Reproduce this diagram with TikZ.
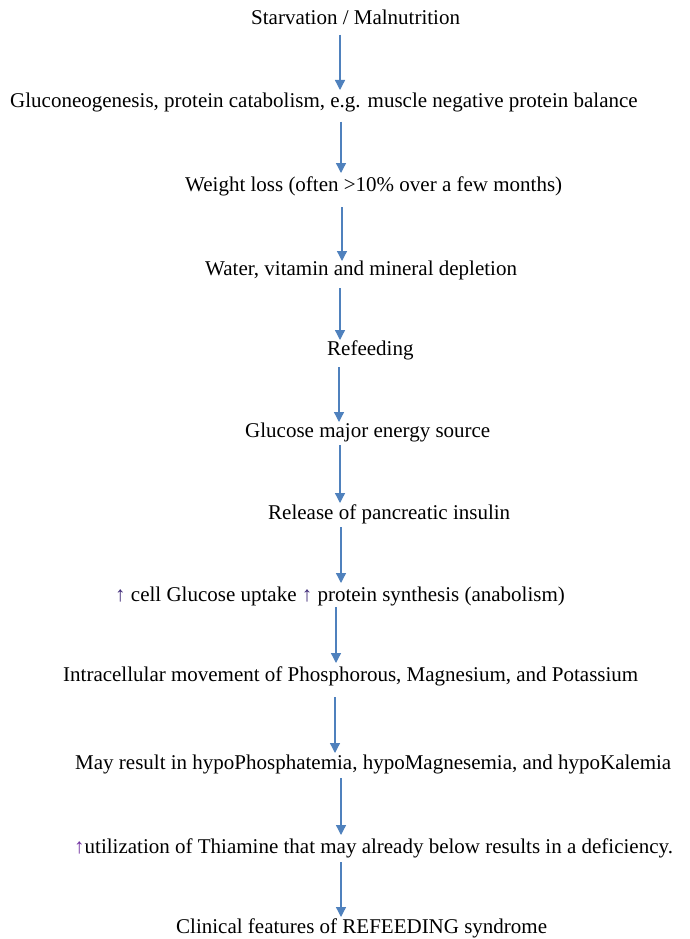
\documentclass[tikz,border=0pt]{standalone}
\usepackage{fontspec}
\setmainfont{Liberation Serif}
\usetikzlibrary{arrows.meta,calc}
\definecolor{arrblue}{HTML}{4F81BD}
\definecolor{uparrA}{HTML}{3F2A78}
\definecolor{uparrB}{HTML}{7030A0}
\begin{document}
\begin{tikzpicture}[x=1pt,y=-1pt,
  lbl/.style={anchor=base west,inner sep=0pt,font=\fontsize{21}{25}\selectfont},
  arr/.style={draw=arrblue,line width=1.3pt,-{Triangle[width=10pt,length=10pt]},fill=arrblue}]
\useasboundingbox[fill=white] (0,0) rectangle (689,939);
\node[lbl] (T1) at (251,25) {Starvation / Malnutrition};
\node[lbl] (T2) at (10,108) {Gluconeogenesis, protein catabolism, e.g. muscle negative protein balance};
\node[lbl] (T3) at (185,191) {Weight loss (often >10\% over a few months)};
\node[lbl] (T4) at (205,275) {Water, vitamin and mineral depletion};
\node[lbl] (T5) at (327,355) {Refeeding};
\node[lbl] (T6) at (245,437) {Glucose major energy source};
\node[lbl] (T7) at (268,519) {Release of pancreatic insulin};
\node[lbl] (T8) at (115,601) {\textcolor{uparrA}{↑} cell Glucose uptake \textcolor{uparrA}{↑} protein synthesis (anabolism)};
\node[lbl] (T9) at (63,681) {Intracellular movement of Phosphorous, Magnesium, and Potassium};
\node[lbl] (T10) at (75,769) {May result in hypoPhosphatemia, hypoMagnesemia, and hypoKalemia};
\node[lbl] (T11) at (74,853) {\textcolor{uparrB}{↑}utilization of Thiamine that may already below results in a deficiency.};
\node[lbl] (T12) at (176,933) {Clinical features of REFEEDING syndrome};
\draw[arr] ($(T1.base -| 340,0)+(0,10)$) -- ($(T2.base -| 340,0)+(0,-18)$);
\draw[arr] ($(T2.base -| 341,0)+(0,14)$) -- ($(T3.base -| 341,0)+(0,-18)$);
\draw[arr] ($(T3.base -| 342,0)+(0,16)$) -- ($(T4.base -| 342,0)+(0,-14)$);
\draw[arr] ($(T4.base -| 340,0)+(0,13)$) -- ($(T5.base -| 340,0)+(0,-15)$);
\draw[arr] ($(T5.base -| 339,0)+(0,12)$) -- ($(T6.base -| 339,0)+(0,-15)$);
\draw[arr] ($(T6.base -| 340,0)+(0,8)$) -- ($(T7.base -| 340,0)+(0,-16)$);
\draw[arr] ($(T7.base -| 341,0)+(0,8)$) -- ($(T8.base -| 341,0)+(0,-18)$);
\draw[arr] ($(T8.base -| 336,0)+(0,6)$) -- ($(T9.base -| 336,0)+(0,-18)$);
\draw[arr] ($(T9.base -| 335,0)+(0,16)$) -- ($(T10.base -| 335,0)+(0,-16)$);
\draw[arr] ($(T10.base -| 341,0)+(0,9)$) -- ($(T11.base -| 341,0)+(0,-18)$);
\draw[arr] ($(T11.base -| 341,0)+(0,9)$) -- ($(T12.base -| 341,0)+(0,-16)$);
\end{tikzpicture}
\end{document}
